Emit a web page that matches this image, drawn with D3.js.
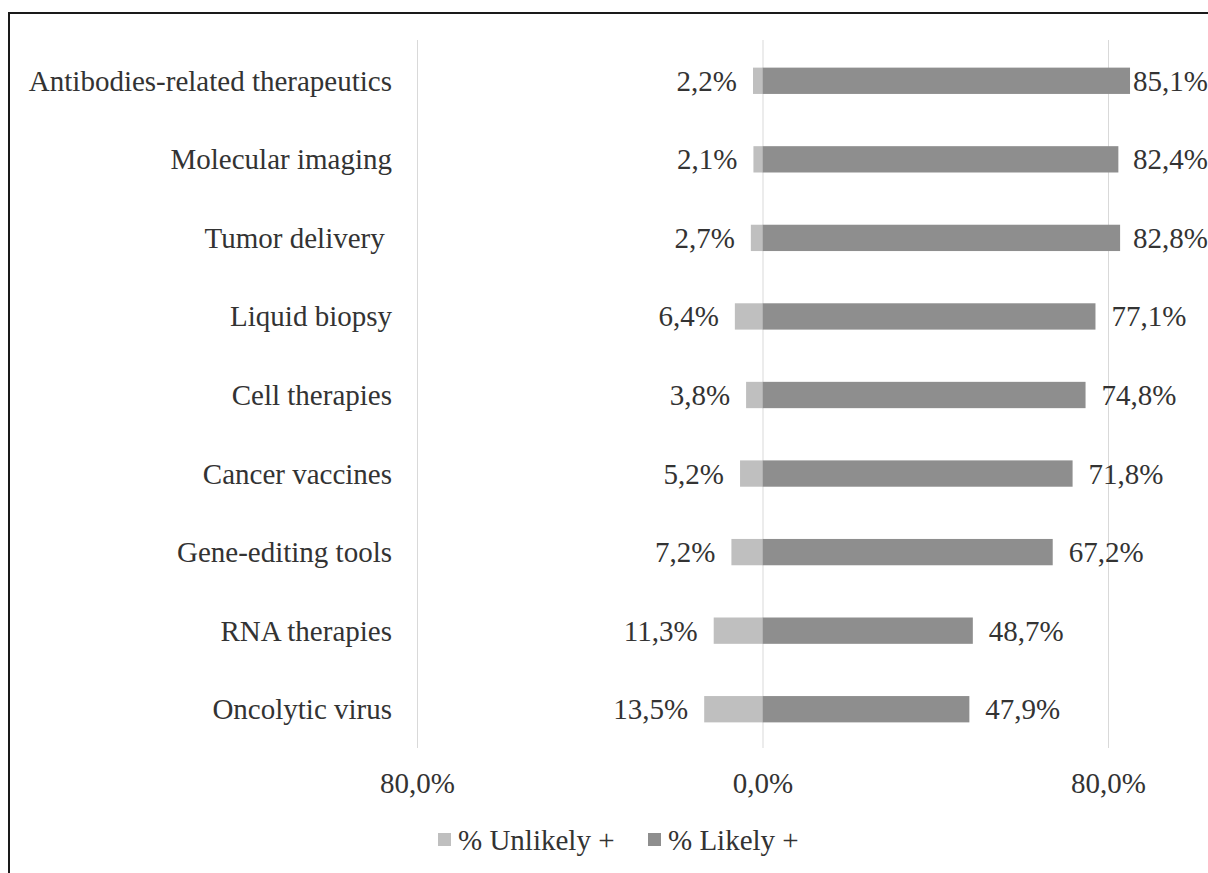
<!DOCTYPE html>
<head>
  <meta charset="utf-8">
  <title>Likely / Unlikely</title>
  <style>
    body { margin: 0; background: #fff; }
    text {
      font-family: "Liberation Serif", "Times New Roman", serif;
      font-size: 29px;
      fill: #333;
      white-space: pre;
    }
  </style>
</head>

<body>
  <script src="https://d3js.org/d3.v7.min.js"></script>
  <script>
  const categories = [
    "Antibodies-related therapeutics",
    "Molecular imaging",
    "Tumor delivery ",
    "Liquid biopsy",
    "Cell therapies",
    "Cancer vaccines",
    "Gene-editing tools",
    "RNA therapies",
    "Oncolytic virus"
  ]
  const unlikely = [2.2, 2.1, 2.7, 6.4, 3.8, 5.2, 7.2, 11.3, 13.5]
  const likely = [85.1, 82.4, 82.8, 77.1, 74.8, 71.8, 67.2, 48.7, 47.9]
  const tickValues = [-80, 0, 80]
  const seriesNames = ["% Unlikely +", "% Likely +"]

  const W = 1208, H = 873
  const colUnlikely = "#bfbfbf", colLikely = "#8e8e8e"

  const loc = d3.formatLocale({decimal: ",", thousands: ".", grouping: [3], currency: ["", ""]})
  const pct = v => loc.format(".1f")(Math.abs(v)) + "%"

  const svg = d3.select("body").append("svg")
    .attr("width", W)
    .attr("height", H)

  // chart frame (runs off the right/bottom edge like the source)
  svg.append("rect")
    .attr("x", 9).attr("y", 13)
    .attr("width", W + 20).attr("height", H + 20)
    .attr("fill", "none")
    .attr("stroke", "#1a1a1a")
    .attr("stroke-width", 2)

  const x = d3.scaleLinear().domain([-80, 80]).range([417, 1108])
  const y = d3.scaleBand().domain(categories).range([41.5, 748.5])
    .paddingInner(0.665).paddingOuter(0.3325)

  // gridlines
  svg.append("g")
    .selectAll("line")
    .data(tickValues)
    .enter()
    .append("line")
    .attr("x1", d => x(d) + 0.5).attr("x2", d => x(d) + 0.5)
    .attr("y1", 40).attr("y2", 748)
    .attr("stroke", "#d9d9d9")
    .attr("stroke-width", 1)

  // x axis labels
  const axis = svg.append("g")
    .attr("transform", "translate(0,766)")
    .call(d3.axisBottom(x).tickValues(tickValues).tickFormat(pct).tickSize(0).tickPadding(0))
  axis.select(".domain").remove()
  axis.selectAll("text")
    .attr("font-family", null).attr("font-size", null).attr("fill", null)
    .attr("dy", null).attr("y", 0)
    .attr("dominant-baseline", "central")
    .attr("transform", "translate(0,17)")

  // category labels
  svg.append("g")
    .selectAll("text")
    .data(categories)
    .enter()
    .append("text")
    .attr("x", 392)
    .attr("y", d => y(d) + y.bandwidth() / 2)
    .attr("text-anchor", "end")
    .attr("dominant-baseline", "central")
    .text(d => d)

  const rows = categories.map((c, i) => ({c, u: unlikely[i], l: likely[i]}))

  // bars
  svg.append("g")
    .selectAll("rect")
    .data(rows)
    .enter()
    .append("rect")
    .attr("x", d => x(-d.u))
    .attr("y", d => y(d.c))
    .attr("width", d => x(0) - x(-d.u))
    .attr("height", y.bandwidth())
    .attr("fill", colUnlikely)

  svg.append("g")
    .selectAll("rect")
    .data(rows)
    .enter()
    .append("rect")
    .attr("x", x(0))
    .attr("y", d => y(d.c))
    .attr("width", d => x(d.l) - x(0))
    .attr("height", y.bandwidth())
    .attr("fill", colLikely)

  // value labels
  svg.append("g")
    .selectAll("text")
    .data(rows)
    .enter()
    .append("text")
    .attr("x", d => x(-d.u) - 16)
    .attr("y", d => y(d.c) + y.bandwidth() / 2)
    .attr("text-anchor", "end")
    .attr("dominant-baseline", "central")
    .text(d => pct(d.u))

  svg.append("g")
    .selectAll("text")
    .data(rows)
    .enter()
    .append("text")
    .attr("y", d => y(d.c) + y.bandwidth() / 2)
    .attr("dominant-baseline", "central")
    .text(d => pct(d.l))
    .attr("x", function(d) {
      const w = this.getComputedTextLength()
      return Math.min(x(d.l) + 16, W - w)
    })

  // legend
  const legend = svg.append("g").attr("transform", "translate(0,840)")
  const legX = [438, 648]
  const legCol = [colUnlikely, colLikely]
  seriesNames.forEach((name, i) => {
    legend.append("rect")
      .attr("x", legX[i]).attr("y", -7)
      .attr("width", 13).attr("height", 13)
      .attr("fill", legCol[i])
    legend.append("text")
      .attr("x", legX[i] + 20)
      .attr("y", 0)
      .attr("dominant-baseline", "central")
      .text(name)
  })
  </script>
</body>
</html>
